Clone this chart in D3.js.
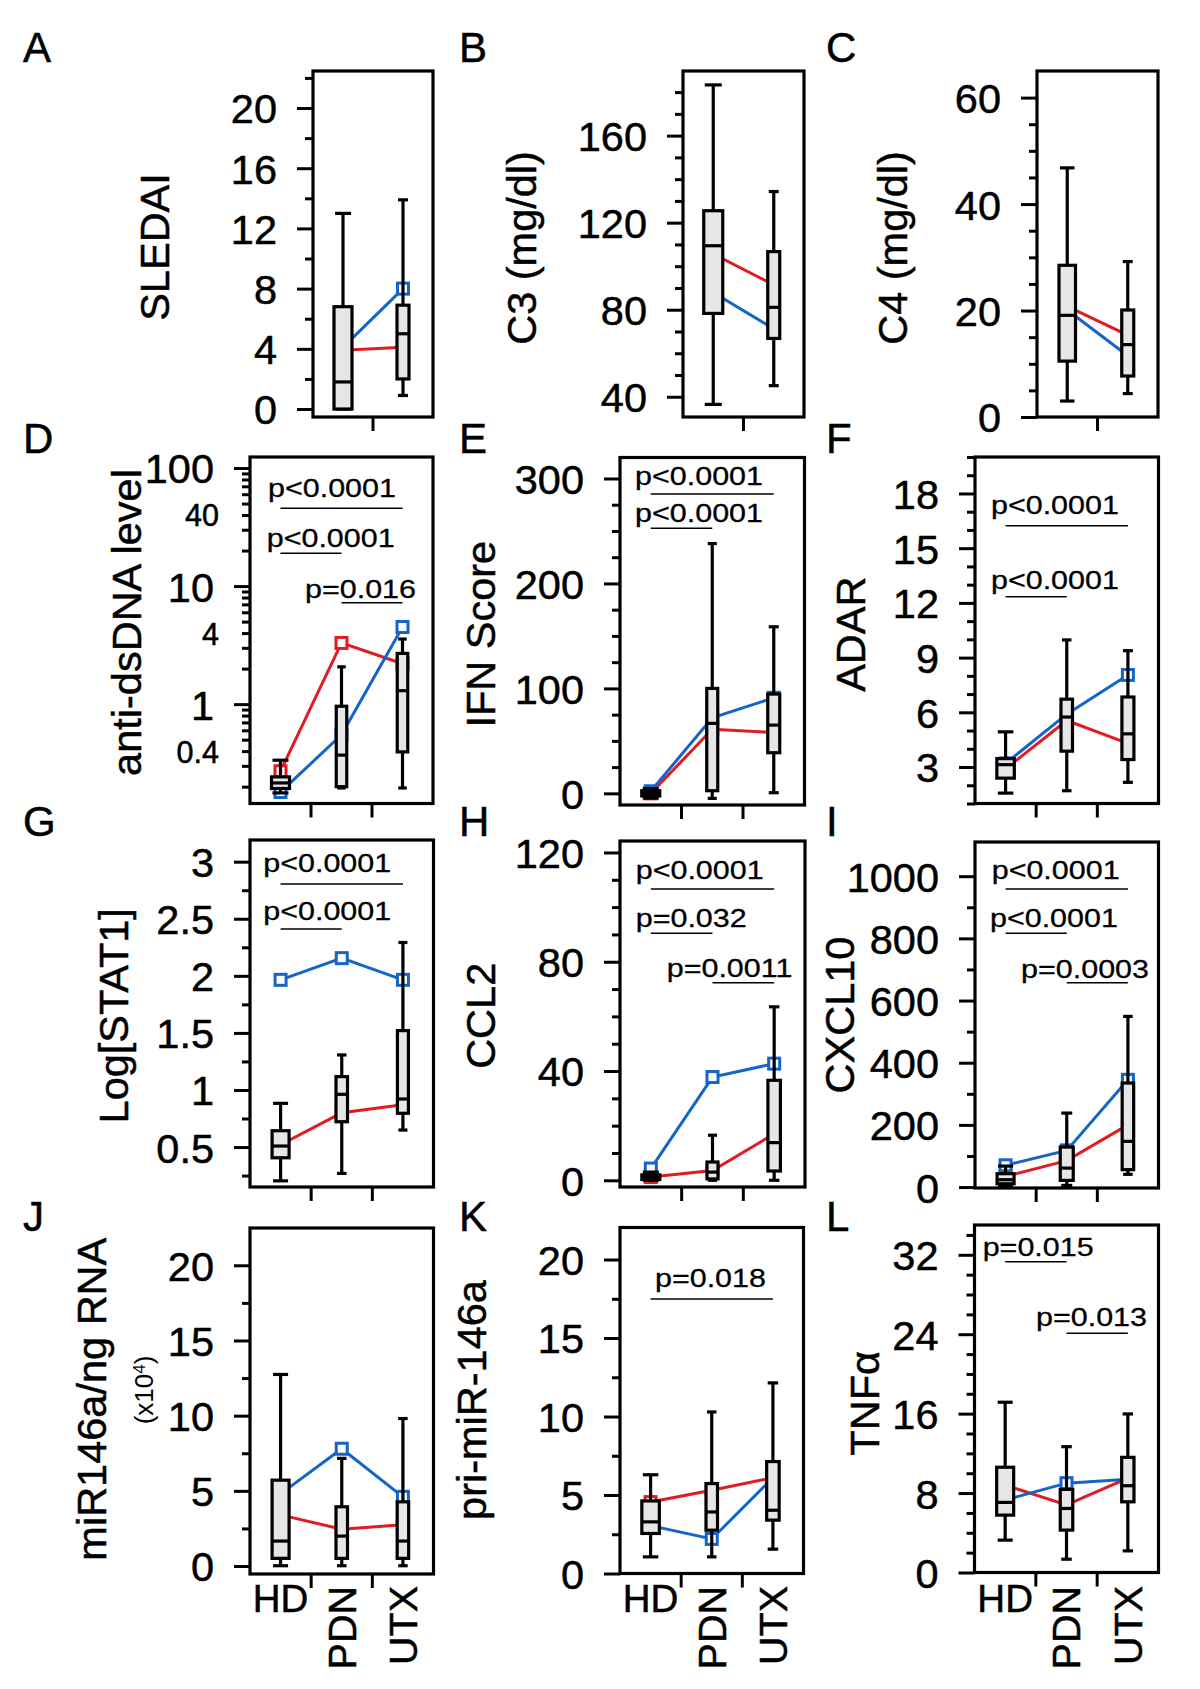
<!DOCTYPE html>
<html><head><meta charset="utf-8">
<script src="https://cdn.jsdelivr.net/npm/d3@7"></script>
<style>
body{margin:0;background:#fff;}
svg{display:block;}
</style></head><body>
<svg id="fig" width="1200" height="1689"></svg>
<script>
// ================= DATA =================
const groups = ["HD", "PDN", "UTX"];
const patientGroups = ["PDN", "UTX"];
// box stats per group: [whisker low, Q1, median, Q3, whisker high]

// A SLEDAI
const sledaiStats = [[0, 0, 1.8, 6.8, 13], [0.9, 2, 5, 6.9, 13.9]];
const sledaiRed = [3.9, 4.1];
const sledaiBlue = [4.1, 8.0];
const sledaiTicks = [0, 4, 8, 12, 16, 20];
const sledaiMinor = [2, 6, 10, 14, 18, 22];

// B C3
const c3Stats = [[36.5, 78.3, 109.4, 125.5, 183.3], [45.1, 66.8, 81.1, 106.7, 134.3]];
const c3Red = [105.6, 91.4];
const c3Blue = [87.9, 71.2];
const c3Ticks = [40, 80, 120, 160];
const c3Minor = [50, 60, 70, 90, 100, 110, 130, 140, 150, 170, 180];

// C C4
const c4Stats = [[3, 10.5, 19.1, 28.5, 46.8], [4.4, 7.7, 13.6, 20.1, 29.2]];
const c4Red = [20.8, 15.4];
const c4Blue = [20.1, 11.5];
const c4Ticks = [0, 20, 40, 60];
const c4Minor = [5, 10, 15, 25, 30, 35, 45, 50, 55];

// D anti-dsDNA (log)
const dsdnaStats = [[0.177, 0.193, 0.215, 0.242, 0.335], [0.195, 0.2, 0.37, 0.96, 2.07], [0.195, 0.394, 1.30, 2.69, 3.56]];
const dsdnaRed = [0.27, 3.3, 2.2];
const dsdnaBlue = [0.18, 0.55, 4.5];
const dsdnaTicks = [1, 10, 100];
const dsdnaSmallTicks = [0.4, 4, 40];
const dsdnaMajor = [1, 10, 100];
const dsdnaMinor = [0.2, 0.3, 0.4, 0.5, 0.6, 0.7, 0.8, 0.9, 2, 3, 4, 5, 6, 7, 8, 9, 20, 30, 40, 50, 60, 70, 80, 90];
const dsdnaP = [[0, 2, "p<0.0001"], [0, 1, "p<0.0001"], [1, 2, "p=0.016"]];

// E IFN score
const ifnStats = [[-4.5, -2.5, 0, 2.5, 4.5], [-4.8, 2.5, 66.7, 100, 238], [0.6, 38.7, 65, 94.6, 158.7]];
const ifnRed = [0, 61, 58];
const ifnBlue = [2, 72, 91];
const ifnTicks = [0, 100, 200, 300];
const ifnMinor = [25, 50, 75, 125, 150, 175, 225, 250, 275];
const ifnP = [[0, 2, "p<0.0001"], [0, 1, "p<0.0001"]];

// F ADAR
const adarStats = [[1.57, 2.39, 3.13, 3.46, 4.93], [1.70, 3.87, 5.74, 6.72, 9.97], [2.16, 3.41, 4.82, 6.84, 9.38]];
const adarRed = [2.9, 5.55, 4.3];
const adarBlue = [3.2, 5.9, 8.05];
const adarTicks = [3, 6, 9, 12, 15, 18];
const adarMinor = [1, 2, 4, 5, 7, 8, 10, 11, 13, 14, 16, 17, 19, 20];
const adarP = [[0, 2, "p<0.0001"], [0, 1, "p<0.0001"]];

// G Log[STAT1]
const stat1Stats = [[0.204, 0.406, 0.509, 0.643, 0.883], [0.269, 0.722, 0.962, 1.117, 1.307], [0.649, 0.796, 0.921, 1.52, 2.292]];
const stat1Red = [0.52, 0.8, 0.87];
const stat1Blue = [1.965, 2.155, 1.965];
const stat1Ticks = [0.5, 1, 1.5, 2, 2.5, 3];
const stat1Minor = [0.25, 0.75, 1.25, 1.75, 2.25, 2.75];
const stat1P = [[0, 2, "p<0.0001"], [0, 1, "p<0.0001"]];

// H CCL2
const ccl2Stats = [[0, 0.3, 1, 2, 3], [0, 0.5, 3, 6.7, 16.5], [0, 3.4, 13.8, 36.6, 63.5]];
const ccl2Red = [1.2, 3.6, 17];
const ccl2Blue = [4.3, 37.8, 42.7];
const ccl2Ticks = [0, 40, 80, 120];
const ccl2Minor = [10, 20, 30, 50, 60, 70, 90, 100, 110];
const ccl2P = [[0, 2, "p<0.0001"], [0, 1, "p=0.032"], [1, 2, "p=0.0011"]];

// I CXCL10
const cxcl10Stats = [[5, 10.7, 23.6, 43, 67.6], [5.4, 21.5, 61, 128.7, 238], [41, 56, 147, 334.6, 549]];
const cxcl10Red = [34, 85, 200];
const cxcl10Blue = [70, 118, 345];
const cxcl10Ticks = [0, 200, 400, 600, 800, 1000];
const cxcl10Minor = [100, 300, 500, 700, 900];
const cxcl10P = [[0, 2, "p<0.0001"], [0, 1, "p<0.0001"], [1, 2, "p=0.0003"]];

// J miR146a
const mirStats = [[0.02, 0.51, 1.66, 5.71, 12.74], [0.02, 0.51, 1.99, 3.94, 7.16], [0.02, 0.51, 1.66, 4.27, 9.81]];
const mirRed = [3.4, 2.45, 2.75];
const mirBlue = [4.8, 7.8, 4.6];
const mirTicks = [0, 5, 10, 15, 20];
const mirMinor = [2.5, 7.5, 12.5, 17.5];

// K pri-miR-146a
const priStats = [[1.06, 2.55, 3.29, 4.62, 6.29], [1.06, 2.76, 3.92, 5.73, 10.29], [1.55, 3.4, 4.03, 7.13, 12.14]];
const priRed = [4.55, 5.3, 6.1];
const priBlue = [3.05, 2.2, 6.1];
const priTicks = [0, 5, 10, 15, 20];
const priMinor = [2.5, 7.5, 12.5, 17.5];
const priP = [[0, 2, "p=0.018"]];

// L TNFa
const tnfStats = [[3.26, 5.78, 7.06, 10.6, 17.15], [1.34, 4.27, 6.45, 8.37, 12.67], [2.18, 7.12, 8.74, 11.6, 15.97]];
const tnfRed = [8.8, 6.8, 9.5];
const tnfBlue = [7.3, 9.0, 9.4];
const tnfTicks = [0, 8, 16, 24, 32];
const tnfMinor = [2, 4, 6, 10, 12, 14, 18, 20, 22, 26, 28, 30, 34];
const tnfP = [[0, 1, "p=0.015"], [1, 2, "p=0.013"]];

// ================= LAYOUT / STYLE =================
const FONT = "'Liberation Sans', Arial, Helvetica, sans-serif";
const RED = "#e11b22", BLUE = "#1565c8", BOXFILL = "#e6e6e6";
const TEXT_STROKE = 0.5;

const panels = [
  {letter: "A", lp: [23, 62], cats: patientGroups, stats: sledaiStats, red: sledaiRed, blue: sledaiBlue,
   labels: sledaiTicks, major: sledaiTicks, minor: sledaiMinor, domain: [-0.53, 22.46],
   frame: [313, 71, 433, 417], yLabel: "SLEDAI", yl: [154, 247], boxW: [18, 12]},
  {letter: "B", lp: [459, 62], cats: patientGroups, stats: c3Stats, red: c3Red, blue: c3Blue,
   labels: c3Ticks, major: c3Ticks, minor: c3Minor, domain: [30.7, 189.7],
   frame: [683, 71, 804, 417], yLabel: "C3 (mg/dl)", yl: [521.7, 248], boxW: [19, 12]},
  {letter: "C", lp: [826, 62], cats: patientGroups, stats: c4Stats, red: c4Red, blue: c4Blue,
   labels: c4Ticks, major: c4Ticks, minor: c4Minor, domain: [0, 65],
   frame: [1037, 71, 1158, 417], yLabel: "C4 (mg/dl)", yl: [892.3, 248], boxW: [16.5, 12]},
  {letter: "D", lp: [23, 453], cats: groups, stats: dsdnaStats, red: dsdnaRed, blue: dsdnaBlue, log: true,
   labels: dsdnaTicks, smallLabels: dsdnaSmallTicks, major: dsdnaMajor, minor: dsdnaMinor, domain: [0.144, 124],
   frame: [250, 457, 433, 803.5], yLabel: "anti-dsDNA level", yl: [126.7, 622.5], boxW: [18, 10.5, 10.5],
   comps: dsdnaP, ann: [{ly: 51.3, ty: 40, dx: -12.5}, {ly: 96.3, ty: 90, dx: -13.8}, {ly: 145.7, ty: 141, dx: -36.5}]},
  {letter: "E", lp: [459, 453], cats: groups, stats: ifnStats, red: ifnRed, blue: ifnBlue,
   labels: ifnTicks, major: ifnTicks, minor: ifnMinor, domain: [-11.1, 320],
   frame: [620, 457.5, 804.5, 805], yLabel: "IFN Score", yl: [480, 634.2], boxW: [18, 11, 12],
   comps: ifnP, ann: [{ly: 36.5, ty: 27.8, dx: -15.7}, {ly: 70.8, ty: 64.5, dx: -15.7}]},
  {letter: "F", lp: [826, 453], cats: groups, stats: adarStats, red: adarRed, blue: adarBlue,
   labels: adarTicks, major: adarTicks, minor: adarMinor, domain: [1, 20],
   frame: [975, 457, 1158.5, 803.5], yLabel: "ADAR", yl: [850, 634.2], boxW: [17.5, 11.5, 12],
   comps: adarP, ann: [{ly: 68.7, ty: 56.6, dx: -14.6}, {ly: 139.7, ty: 131.6, dx: -14.6}]},
  {letter: "G", lp: [23, 835.5], cats: groups, stats: stat1Stats, red: stat1Red, blue: stat1Blue,
   labels: stat1Ticks, major: stat1Ticks, minor: stat1Minor, domain: [0.15, 3.19],
   frame: [250, 840, 433.5, 1187], yLabel: "Log[STAT1]", yl: [113.6, 1015.8], boxW: [17, 11.5, 11],
   comps: stat1P, ann: [{ly: 44, ty: 32, dx: -17.3}, {ly: 89, ty: 80.3, dx: -17.3}]},
  {letter: "H", lp: [459, 835.5], cats: groups, stats: ccl2Stats, red: ccl2Red, blue: ccl2Blue,
   labels: ccl2Ticks, major: ccl2Ticks, minor: ccl2Minor, domain: [-2.45, 124.2],
   frame: [620, 841, 805, 1187], yLabel: "CCL2", yl: [480.8, 1015.8], boxW: [18, 11, 12.5],
   comps: ccl2P, ann: [{ly: 48, ty: 37.6, dx: -15.1}, {ly: 92.3, ty: 86, dx: -15.1}, {ly: 141.7, ty: 136, dx: -45.8}]},
  {letter: "I", lp: [826, 835.5], cats: groups, stats: cxcl10Stats, red: cxcl10Red, blue: cxcl10Blue,
   labels: cxcl10Ticks, major: cxcl10Ticks, minor: cxcl10Minor, domain: [-3, 1110],
   frame: [975, 842, 1158.5, 1188], yLabel: "CXCL10", yl: [839.2, 1015], boxW: [17, 13, 11.5],
   comps: cxcl10P, ann: [{ly: 47, ty: 36.6, dx: -13.9}, {ly: 91.3, ty: 85, dx: -15.6}, {ly: 140.7, ty: 136, dx: -45.7}]},
  {letter: "J", lp: [23, 1231], cats: groups, stats: mirStats, red: mirRed, blue: mirBlue,
   labels: mirTicks, major: mirTicks, minor: mirMinor, domain: [-0.53, 22.48],
   frame: [250, 1228, 433.5, 1574], yLabel: "miR146a/ng RNA", yl: [91.7, 1399.2], boxW: [17, 11.5, 11.5],
   ySub: true, xLabels: true},
  {letter: "K", lp: [459, 1231], cats: groups, stats: priStats, red: priRed, blue: priBlue,
   labels: priTicks, major: priTicks, minor: priMinor, domain: [0, 22.04],
   frame: [620, 1227.5, 803.5, 1573.5], yLabel: "pri-miR-146a", yl: [471.5, 1400], boxW: [17.5, 11.5, 12.5],
   comps: priP, ann: [{ly: 71.5, ty: 59.5, dx: 4.4}], xLabels: true},
  {letter: "L", lp: [826, 1231], cats: groups, stats: tnfStats, red: tnfRed, blue: tnfBlue,
   labels: tnfTicks, major: tnfTicks, minor: tnfMinor, domain: [0, 35],
   frame: [974.5, 1225, 1158.5, 1572.5], yLabel: "TNFα", yl: [864.2, 1403.3], boxW: [17, 12.5, 12.3],
   comps: tnfP, ann: [{ly: 36.7, ty: 31, dx: -22.5}, {ly: 108.3, ty: 101, dx: -30.5}], xLabels: true}
];

const svg = d3.select("#fig").attr("font-family", FONT);

function styleAxis(a, w, fs) {
  a.select(".domain").remove();
  a.attr("font-family", FONT).attr("font-size", fs || 41).attr("color", "#000");
  a.selectAll(".tick line").attr("stroke", "#000").attr("stroke-width", w);
  a.selectAll("text").attr("stroke", "#000").attr("stroke-width", TEXT_STROKE);
}

function bigText(sel, fs) {
  return sel.attr("font-size", fs).attr("fill", "#000").attr("stroke", "#000").attr("stroke-width", TEXT_STROKE);
}

function drawPanel(p) {
  const [x0, y0, x1, y1] = p.frame;
  const g = svg.append("g");
  const x = d3.scaleBand().domain(p.cats).range([x0, x1]);
  const y = (p.log ? d3.scaleLog() : d3.scaleLinear()).domain(p.domain).range([y1, y0]);
  const cx = c => x(c) + x.bandwidth() / 2;

  // y axis: minor ticks, major ticks, labels
  g.append("g").attr("transform", `translate(${x0},0)`)
    .call(d3.axisLeft(y).tickValues(p.minor).tickSize(8).tickFormat(""))
    .call(a => styleAxis(a, 3));
  g.append("g").attr("transform", `translate(${x0},0)`)
    .call(d3.axisLeft(y).tickValues(p.major).tickSize(16).tickFormat(""))
    .call(a => styleAxis(a, 3));
  g.append("g").attr("transform", `translate(${x0},0)`)
    .call(d3.axisLeft(y).tickValues(p.labels).tickSize(0).tickPadding(36).tickFormat(d => String(d)))
    .call(a => styleAxis(a, 0, 41.5))
    .call(a => a.selectAll("text").attr("dy", "0.36em"));
  if (p.smallLabels) {
    g.append("g").attr("transform", `translate(${x0},0)`)
      .call(d3.axisLeft(y).tickValues(p.smallLabels).tickSize(0).tickPadding(31).tickFormat(d => String(d)))
      .call(a => styleAxis(a, 0, 30.5))
      .call(a => a.selectAll("text").attr("dy", "0.36em"));
  }

  // x ticks at band boundaries
  g.append("g").selectAll("line").data(p.cats.slice(1)).join("line")
    .attr("x1", d => x(d)).attr("x2", d => x(d))
    .attr("y1", y1).attr("y2", y1 + 14)
    .attr("stroke", "#000").attr("stroke-width", 3);

  // colored series lines
  const line = d3.line().x((d, i) => cx(p.cats[i])).y(d => y(d));
  [[p.red, RED], [p.blue, BLUE]].forEach(([vals, col]) => {
    g.append("path").datum(vals).attr("d", line)
      .attr("fill", "none").attr("stroke", col).attr("stroke-width", 3);
  });
  [[p.red, RED], [p.blue, BLUE]].forEach(([vals, col]) => {
    g.append("g").selectAll("rect").data(vals).join("rect")
      .attr("x", (d, i) => cx(p.cats[i]) - 5.5).attr("y", d => y(d) - 5.5)
      .attr("width", 11).attr("height", 11)
      .attr("fill", "#fff").attr("stroke", col).attr("stroke-width", 3);
  });

  // boxes
  p.stats.forEach((s, i) => {
    const c = cx(p.cats[i]);
    const w = p.boxW[i];
    const cap = w - 2;
    const [lo, q1, md, q3, hi] = s;
    const bg = g.append("g").attr("stroke", "#000").attr("stroke-width", 3.2);
    bg.append("line").attr("x1", c).attr("x2", c).attr("y1", y(lo)).attr("y2", y(hi));
    bg.append("line").attr("x1", c - cap / 2).attr("x2", c + cap / 2).attr("y1", y(lo)).attr("y2", y(lo));
    bg.append("line").attr("x1", c - cap / 2).attr("x2", c + cap / 2).attr("y1", y(hi)).attr("y2", y(hi));
    bg.append("rect").attr("x", c - w / 2).attr("width", w)
      .attr("y", y(q3)).attr("height", Math.max(0, y(q1) - y(q3)))
      .attr("fill", BOXFILL);
    bg.append("line").attr("x1", c - w / 2).attr("x2", c + w / 2).attr("y1", y(md)).attr("y2", y(md));
  });

  // p-value annotations
  (p.comps || []).forEach((cmp, k) => {
    const [i, j, label] = cmp;
    const a = p.ann[k];
    const xa = cx(p.cats[i]), xb = cx(p.cats[j]);
    g.append("line").attr("x1", xa).attr("x2", xb)
      .attr("y1", y0 + a.ly).attr("y2", y0 + a.ly)
      .attr("stroke", "#000").attr("stroke-width", 1.5);
    g.append("text").attr("transform", `translate(${xa + a.dx},${y0 + a.ty}) scale(1.15,1)`)
      .attr("font-size", 26.5).attr("fill", "#000").attr("stroke", "#000").attr("stroke-width", 0.3)
      .text(label);
  });

  // frame
  g.append("rect").attr("x", x0).attr("y", y0).attr("width", x1 - x0).attr("height", y1 - y0)
    .attr("fill", "none").attr("stroke", "#000").attr("stroke-width", 3.2);

  // y label
  bigText(g.append("text").attr("transform", `translate(${p.yl[0]},${p.yl[1]}) rotate(-90)`)
    .attr("text-anchor", "middle").attr("dy", "0.35em"), 41.5)
    .text(p.yLabel);
  if (p.ySub) {
    const t = g.append("text").attr("transform", `translate(144,1390) rotate(-90)`)
      .attr("text-anchor", "middle").attr("dy", "0.35em").attr("font-size", 26).attr("fill", "#000");
    t.append("tspan").text("(x10");
    t.append("tspan").attr("dy", "-0.45em").attr("font-size", 17).text("4");
    t.append("tspan").attr("dy", "0.3em").text(")");
  }

  // x labels
  if (p.xLabels) {
    p.cats.forEach((c, i) => {
      if (i === 0) {
        bigText(g.append("text").attr("x", cx(c)).attr("y", 1612).attr("text-anchor", "middle"), 38.5).text(c);
      } else {
        bigText(g.append("text").attr("transform", `translate(${cx(c)},1586) rotate(-90)`)
          .attr("text-anchor", "end").attr("dy", "0.35em"), 39.5).text(c);
      }
    });
  }

  // panel letter
  bigText(svg.append("text").attr("x", p.lp[0]).attr("y", p.lp[1]), 42).text(p.letter);
}

panels.forEach(drawPanel);
</script>
</body></html>
